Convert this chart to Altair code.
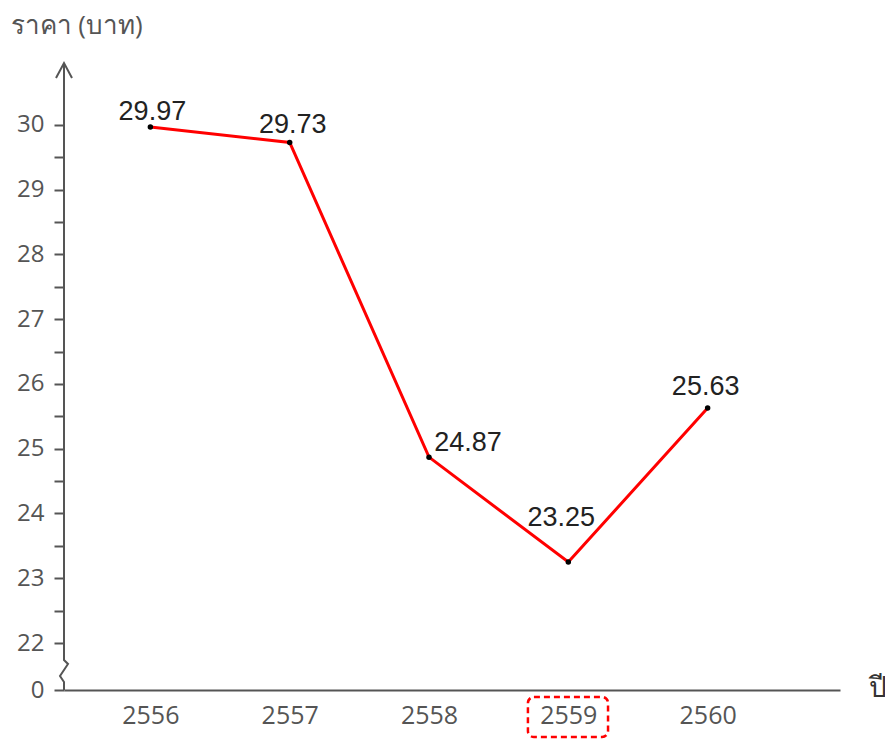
import altair as alt
import pandas as pd

years = [2556, 2557, 2558, 2559, 2560]
prices = [29.97, 29.73, 24.87, 23.25, 25.63]
labels = ["29.97", "29.73", "24.87", "23.25", "25.63"]
label_dx = [2, 3, 39, -7, -2]
label_dy = [-15, -17, -14, -44, -21]
y_major = [0, 22, 23, 24, 25, 26, 27, 28, 29, 30]
y_minor = [22.5, 23.5, 24.5, 25.5, 26.5, 27.5, 28.5, 29.5]

W, H = 776, 627
FONT = "'Open Sans', 'Noto Sans', sans-serif"
LFONT = "'Liberation Sans', Arial, sans-serif"
GRAY = "#555555"

xscale = alt.Scale(domain=[2555.38, 2560.95], nice=False, zero=False)
yscale = alt.Scale(domain=[0, 22, 30.957], range=[H, 580, 0], nice=False, zero=False)

df = pd.DataFrame({"year": years, "price": prices, "label": labels})

tick_vals = sorted(y_major + y_minor)

base = alt.Chart(df)

line = base.mark_line(color="#ff0000", strokeWidth=3).encode(
    x=alt.X("year:Q", scale=xscale,
            axis=alt.Axis(values=years, format="d", ticks=False, grid=False,
                          domainColor=GRAY, domainWidth=2, labelFontSize=25,
                          labelColor=GRAY, labelFont=FONT, labelPadding=13,
                          title="ปี", titleFont=FONT, titleFontSize=28,
                          titleFontWeight="normal", titleColor="#333333",
                          titleX=813, titleY=-2, titleBaseline="middle",
                          titleAlign="center")),
    y=alt.Y("price:Q", scale=yscale,
            axis=alt.Axis(values=tick_vals, tickCount=100, grid=False, domain=False,
                          labelOverlap=False, labelFlush=False,
                          labelExpr="datum.value % 1 == 0 ? format(datum.value, 'd') : ''",
                          tickColor=GRAY, tickWidth=2, tickSize=10,
                          labelFontSize=24, labelColor=GRAY, labelFont=FONT,
                          labelPadding=10,
                          title="ราคา (บาท)", titleAngle=0, titleAlign="left",
                          titleBaseline="middle", titleX=-54, titleY=-38,
                          titleFont=FONT, titleFontSize=26,
                          titleFontWeight="normal", titleColor=GRAY)),
)

pts = base.mark_point(filled=True, color="black", size=30, opacity=1).encode(
    x=alt.X("year:Q", scale=xscale), y=alt.Y("price:Q", scale=yscale))

txt_layers = []
for i in range(len(years)):
    txt_layers.append(
        alt.Chart(df.iloc[[i]]).mark_text(fontSize=27, font=LFONT, color="#222222",
                                          dx=label_dx[i], dy=label_dy[i]).encode(
            x=alt.X("year:Q", scale=xscale), y=alt.Y("price:Q", scale=yscale),
            text="label:N"))

# axis line with break + arrow (decoration, pixel space)
deco = pd.DataFrame({
    "px": [0, 0, 4, -4, 0, 0, -8, 0, 8],
    "py": [0, 597, 601, 613, 619, 627, 15, 0, 15],
    "seg": [0, 0, 0, 0, 0, 0, 1, 1, 1],
    "i": list(range(9)),
})
axis_line = alt.Chart(deco).mark_line(color=GRAY, strokeWidth=2).encode(
    x=alt.X("px:Q", scale=None), y=alt.Y("py:Q", scale=None),
    detail="seg:N", order="i:Q")

hl = pd.DataFrame({"x1": [2559 - 0.29], "x2": [2559 + 0.285]})
box = alt.Chart(hl).mark_rect(fill=None, stroke="#ff0000", strokeWidth=2.5,
                              strokeDash=[6, 4], cornerRadius=6).encode(
    x=alt.X("x1:Q", scale=xscale), x2="x2:Q",
    y=alt.value(H + 7), y2=alt.value(H + 47))

chart = alt.layer(line, axis_line, pts, *txt_layers, box).properties(
    width=W, height=H,
    background="white",
    autosize=alt.AutoSizeParams(type="none"),
    padding={"left": 56, "top": 55, "right": 45, "bottom": 50},
).configure_view(stroke=None)

chart.save("out.html", embed_options={"renderer": "svg", "actions": False})
